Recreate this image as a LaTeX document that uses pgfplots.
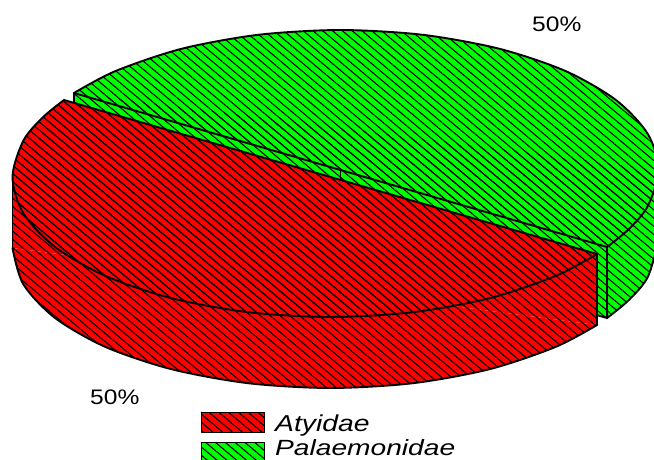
\documentclass[border=0pt]{standalone}
\usepackage{fontspec}
\setmainfont{Liberation Sans}
\usepackage{pgfplots}
\pgfplotsset{compat=1.18}
\usetikzlibrary{patterns.meta}

% Solid colour first, black diagonal hatch in a second pass
\tikzset{
  solid fill/.style={draw=none, fill=#1},
  hatch only/.style={draw=none,
    pattern={Lines[angle=-40,distance=6.3pt,line width=1.08pt]},pattern color=black},
  edge/.style={black,line width=1.9pt,line cap=round,line join=round}
}
\definecolor{wedgered}{RGB}{255,0,0}
\definecolor{wedgegreen}{RGB}{0,255,0}

\begin{document}
\begin{tikzpicture}
\path[use as bounding box] (0,0) rectangle (654pt,459pt);
\begin{axis}[
  at={(0,0)}, anchor=south west,
  scale only axis, width=654pt, height=459pt,
  xmin=0, xmax=654, ymin=0, ymax=459,
  y dir=reverse, hide axis, clip=true
]
% --- Palaemonidae: side band and top face
\addplot[solid fill=wedgegreen] coordinates {(74,93) (74,164) (607,318) (658.5,241) (658.5,170)};
\addplot[solid fill=wedgegreen,smooth] coordinates {(607,318) (628.7,300.2) (647.7,277.2) (658.5,241)};
\addplot[solid fill=wedgegreen,smooth] coordinates {
  (607,247) (628.7,229.2) (647.7,206.2) (658.5,170) (647.7,133.8) (615.9,100) (565.4,71)
  (499.5,48.8) (422.8,34.8) (340.5,30) (258.2,34.8) (181.5,48.8) (115.6,71) (74,93)};
\addplot[hatch only] coordinates {(74,93) (74,164) (607,318) (658.5,241) (658.5,170)};
\addplot[hatch only,smooth] coordinates {(607,318) (628.7,300.2) (647.7,277.2) (658.5,241)};
\addplot[hatch only,smooth] coordinates {
  (607,247) (628.7,229.2) (647.7,206.2) (658.5,170) (647.7,133.8) (615.9,100) (565.4,71)
  (499.5,48.8) (422.8,34.8) (340.5,30) (258.2,34.8) (181.5,48.8) (115.6,71) (74,93)};
% outlines
\addplot[edge,smooth] coordinates {
  (607,247) (628.7,229.2) (647.7,206.2) (658.5,170) (647.7,133.8) (615.9,100) (565.4,71)
  (499.5,48.8) (422.8,34.8) (340.5,30) (258.2,34.8) (181.5,48.8) (115.6,71) (74,93)};
\addplot[edge,smooth] coordinates {(607,318) (628.7,300.2) (647.7,277.2) (658.5,241)};
\addplot[edge] coordinates {(74,164) (74,93) (340.5,170) (607,247) (607,318) (340.5,241) (74,164)};
\addplot[edge] coordinates {(340.5,170) (340.5,241)};

% --- Atyidae: pulled out towards the viewer
\addplot[solid fill=wedgered] coordinates {(64,100) (12.5,177) (12.5,248) (597,325) (597,254)};
\addplot[solid fill=wedgered,smooth] coordinates {
  (12.5,248) (23.3,284.2) (55.1,318) (105.6,347) (171.5,369.2) (248.2,383.2) (330.5,388)
  (412.8,383.2) (489.5,369.2) (555.4,347) (597,325)};
\addplot[solid fill=wedgered,smooth] coordinates {
  (64,100) (42.3,117.8) (23.3,140.8) (12.5,177) (23.3,213.2) (55.1,247) (105.6,276) (171.5,298.2)
  (248.2,312.2) (330.5,317) (412.8,312.2) (489.5,298.2) (555.4,276) (597,254)};
\addplot[hatch only] coordinates {(64,100) (12.5,177) (12.5,248) (597,325) (597,254)};
\addplot[hatch only,smooth] coordinates {
  (12.5,248) (23.3,284.2) (55.1,318) (105.6,347) (171.5,369.2) (248.2,383.2) (330.5,388)
  (412.8,383.2) (489.5,369.2) (555.4,347) (597,325)};
\addplot[hatch only,smooth] coordinates {
  (64,100) (42.3,117.8) (23.3,140.8) (12.5,177) (23.3,213.2) (55.1,247) (105.6,276) (171.5,298.2)
  (248.2,312.2) (330.5,317) (412.8,312.2) (489.5,298.2) (555.4,276) (597,254)};
% outlines
\addplot[edge,smooth] coordinates {
  (64,100) (42.3,117.8) (23.3,140.8) (12.5,177) (23.3,213.2) (55.1,247) (105.6,276) (171.5,298.2)
  (248.2,312.2) (330.5,317) (412.8,312.2) (489.5,298.2) (555.4,276) (597,254)};
\addplot[edge,smooth] coordinates {
  (12.5,248) (23.3,284.2) (55.1,318) (105.6,347) (171.5,369.2) (248.2,383.2) (330.5,388)
  (412.8,383.2) (489.5,369.2) (555.4,347) (597,325)};
\addplot[edge] coordinates {(12.5,177) (12.5,248)};
\addplot[edge] coordinates {(64,100) (597,254) (597,325)};

% --- Key
\addplot[solid fill=wedgered] coordinates {(201.5,412.5) (264.5,412.5) (264.5,432.5) (201.5,432.5)};
\addplot[hatch only] coordinates {(201.5,412.5) (264.5,412.5) (264.5,432.5) (201.5,432.5)};
\addplot[edge] coordinates {(201.5,412.5) (264.5,412.5) (264.5,432.5) (201.5,432.5) (201.5,412.5)};
\addplot[solid fill=wedgegreen] coordinates {(201.5,442.5) (264.5,442.5) (264.5,462.5) (201.5,462.5)};
\addplot[hatch only] coordinates {(201.5,442.5) (264.5,442.5) (264.5,462.5) (201.5,462.5)};
\addplot[edge] coordinates {(201.5,442.5) (264.5,442.5) (264.5,462.5) (201.5,462.5) (201.5,442.5)};

\node[anchor=base west,inner sep=0pt,font=\fontsize{21}{21}\selectfont] at (axis cs:532,31) {\scalebox{1.17}[1]{50\%}};
\node[anchor=base west,inner sep=0pt,font=\fontsize{21}{21}\selectfont] at (axis cs:90,404) {\scalebox{1.17}[1]{50\%}};
\node[anchor=base west,inner sep=0pt,font=\fontsize{23}{23}\selectfont\itshape] at (axis cs:275,431) {\scalebox{1.23}[1]{Atyidae}};
\node[anchor=base west,inner sep=0pt,font=\fontsize{22}{22}\selectfont\itshape] at (axis cs:275,455.5) {\scalebox{1.28}[1]{Palaemonidae}};
\end{axis}
\end{tikzpicture}
\end{document}
